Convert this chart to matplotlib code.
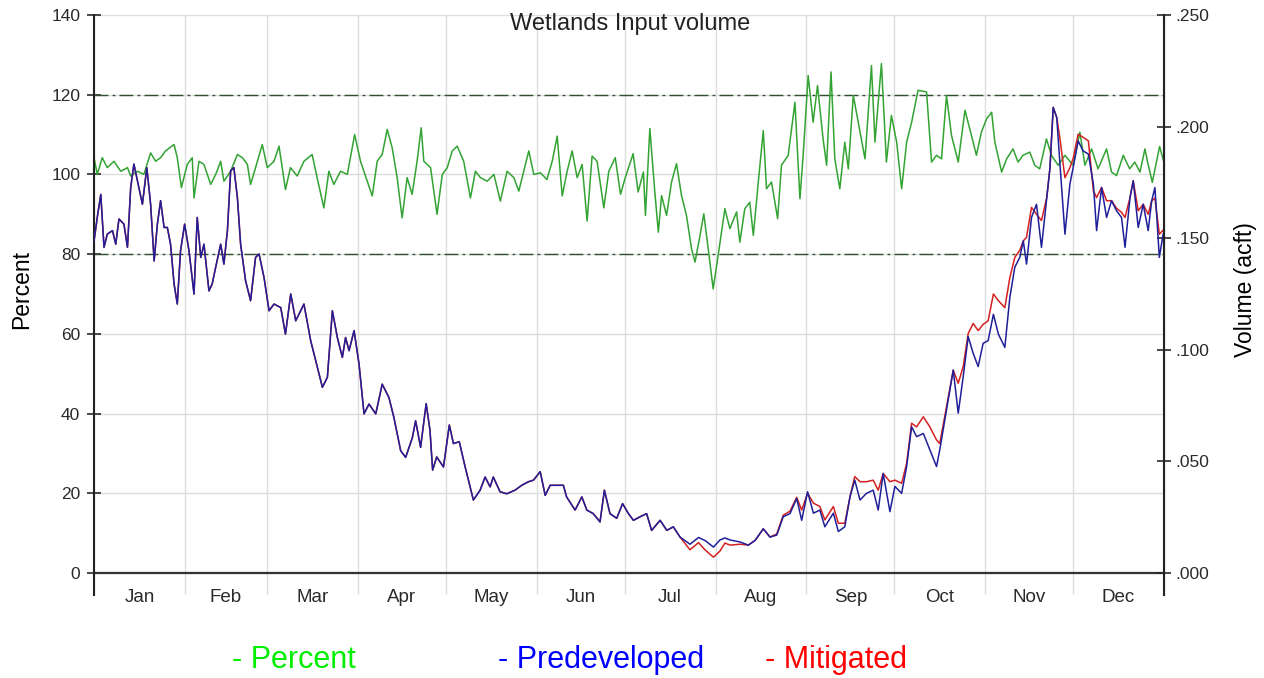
import matplotlib
matplotlib.use("Agg")
import matplotlib.pyplot as plt
import numpy as np

plt.rcParams['font.family'] = ['Liberation Sans', 'DejaVu Sans']

# month layout
month_names = ['Jan', 'Feb', 'Mar', 'Apr', 'May', 'Jun',
               'Jul', 'Aug', 'Sep', 'Oct', 'Nov', 'Dec']
month_start = [0, 31, 59, 90, 120, 151, 181, 212, 243, 273, 304, 334, 365]

# Percent (left axis), day of year
green_day = np.array([
    0, 1.1, 2.8, 4.5, 6.8, 9.1, 11.4, 12.5, 14.8, 17.0,
    19.3, 21.0, 22.7, 24.4, 27.3, 28.4, 29.8, 31.8, 33.5, 34.1,
    35.8, 37.5, 39.8, 41.5, 43.2, 44.3, 46.6, 48.9, 50.6, 52.3,
    53.4, 55.1, 57.4, 59.1, 61.4, 63.1, 65.3, 67.0, 69.3, 71.6,
    74.4, 76.1, 78.4, 80.1, 81.8, 84.1, 86.4, 88.9, 90.9, 92.6,
    94.9, 96.6, 98.3, 100.0, 101.7, 103.4, 105.1, 106.8, 108.5, 110.2,
    111.6, 112.5, 114.8, 117.0, 118.8, 120.5, 122.2, 123.9, 126.1, 128.4,
    130.1, 131.8, 134.1, 136.4, 138.6, 140.9, 143.2, 144.9, 146.6, 148.3,
    150.0, 152.3, 154.5, 156.3, 158.0, 159.7, 161.4, 163.1, 164.8, 166.5,
    168.2, 169.9, 171.6, 173.9, 175.6, 177.8, 179.6,
    181.1, 183.9, 185.6, 187.4, 188.1, 189.6, 191.3, 192.5, 193.6, 195.3,
    197.0, 198.7, 200.4, 202.1, 203.8, 205.0, 206.3, 208.0, 209.5, 211.2,
    212.9, 215.2, 216.9, 219.2, 220.3, 222.0, 223.7, 224.9, 226.6, 228.3,
    229.4, 231.1, 233.2, 234.5, 236.8, 239.1, 240.8, 241.9, 243.6, 245.3,
    246.8, 248.7, 249.9, 251.4, 252.7, 254.4, 256.1, 257.3, 259.0, 260.7,
    263.0, 265.2, 266.4, 268.6, 270.3, 272.0, 273.8, 275.5, 277.2, 278.9,
    281.1, 284.0, 285.7, 287.4, 289.1, 290.8, 292.5, 294.8, 297.1, 299.3,
    301.0, 302.7, 304.5, 306.2, 307.3, 309.6, 311.3, 313.5, 315.2, 316.9,
    319.2, 320.9, 322.6, 324.9, 326.6, 328.9, 331.2, 334.0, 336.3, 338.0,
    340.3, 342.5, 345.4, 347.1, 348.8, 351.1, 353.3, 355.0, 356.8, 358.5,
    359.4, 361.0, 363.5, 365.0])
green_pct = np.array([
    104.2, 100, 104.2, 101.7, 103.3, 100.8, 101.7, 99.6, 100.8, 100,
    105.4, 103.3, 104.2, 105.9, 107.5, 104.2, 96.7, 102.5, 104.2, 94.1,
    103.3, 102.5, 97.5, 100, 103.3, 98.3, 100.8, 105, 104.2, 102.5,
    97.5, 101.7, 107.5, 101.7, 103.3, 107.1, 96.2, 101.7, 99.6, 103.3,
    105, 99.2, 91.6, 100.8, 97.5, 100.8, 100, 110, 103.3, 99.6,
    94.6, 103.3, 105, 111.3, 106.7, 99.2, 89.1, 99.2, 95, 103.3,
    111.7, 103.3, 101.7, 90, 100, 101.7, 105.9, 107.1, 103.3, 94.1,
    100.8, 99.2, 98.3, 100, 93.3, 100.8, 99.2, 95.8, 100.8, 105.9,
    100, 100.4, 98.7, 103.3, 109.6, 94.6, 100.8, 105.9, 99.2, 102.5,
    88.3, 104.6, 103.3, 91.6, 100.8, 104.2, 95,
    98.9, 105.2, 95.6, 100.6, 89.7, 111.5, 95.6, 85.5, 94.7, 89.7,
    98.1, 102.7, 94.7, 89.7, 81.4, 78.0, 83.0, 90.1, 81.4, 71.3,
    79.7, 91.4, 86.4, 90.6, 83.0, 91.4, 93.0, 84.7, 98.1, 111.0,
    96.4, 98.1, 88.9, 102.3, 104.8, 118.1, 93.9, 104.8, 124.8, 113.1,
    122.3, 108.9, 102.3, 125.7, 103.9, 96.4, 108.1, 101.4, 119.8, 113.1,
    103.9, 127.3, 108.1, 127.8, 103.1, 114.8, 108.1, 96.4, 108.1, 113.1,
    121.1, 120.7, 103.1, 104.8, 103.9, 119.8, 109.8, 103.1, 116.1, 109.8,
    104.8, 110.6, 114.0, 115.6, 108.1, 100.6, 103.9, 106.4, 103.1, 104.8,
    105.6, 102.3, 101.4, 108.9, 104.8, 102.3, 104.8, 102.3, 110.6, 102.3,
    106.4, 101.4, 106.4, 100.6, 99.7, 104.8, 101.4, 103.1, 100.6, 106.4,
    103.1, 98, 107, 103])

# Volume (right axis, acft), shared day positions
vol_day = np.array([
    0, 1.1, 2.3, 3.4, 4.5, 6.3, 7.4, 8.5, 10.2, 11.4,
    12.5, 13.6, 15.3, 16.5, 18, 19.3, 20.5, 21.6, 22.7, 23.9,
    25, 26.1, 27.3, 28.4, 29.5, 30.9, 32.4, 34.1, 35.2, 36.4,
    37.5, 39.2, 40.3, 41.5, 43.2, 44.3, 45.5, 46.6, 47.7, 48.9,
    50, 51.7, 53.4, 55.1, 56.3, 58, 59.7, 61.4, 63.7, 65.3,
    67.1, 68.8, 71.6, 73.9, 76.2, 77.9, 79.6, 81.3, 83, 84.7,
    85.8, 87, 88.7, 90.4, 92.1, 93.8, 96.1, 98.3, 100.6, 102.3,
    104.6, 106.3, 108.6, 109.7, 111.4, 113.3, 114.6, 115.5, 116.9, 119.2,
    121.2, 122.6, 124.6, 126.6, 128.3, 129.4, 131.7, 133.4, 135.1, 136.2,
    138.5, 140.8, 143.6, 145.9, 148.2, 149.9, 152.2, 153.9, 155.6, 160.1,
    161.2, 164.1, 166.4, 168.1, 170.3, 172.6, 174.1, 176, 178.3, 180.3,
    182.3, 184, 186.3, 188.5, 190.2, 193.1, 195.4, 197.6, 199.9, 203.3,
    206.2, 208.4, 211.3, 213.5, 215.2, 217, 220.4, 223.2, 225.5, 228.3,
    230.6, 232.9, 235.1, 237.4, 239.7, 241.4, 243.4, 245.4, 247.6, 249.3,
    252.2, 253.9, 256.1, 257.9, 259.5, 261.3, 263.5, 265.8, 267.5, 269.2,
    271.5, 273.2, 275.5, 277.2, 278.9, 280.6, 282.9, 285.1, 287.4, 288.5,
    290.8, 293.1, 294.8, 296.5, 298.2, 299.9, 301.6, 303.3, 305, 306.8,
    308.5, 310.7, 312.4, 314.1, 315.8, 317, 318.1, 319.8, 321.5, 323.2,
    325, 326.1, 327.2, 328.4, 329.5, 331.2, 332.9, 334, 335.7, 337.4,
    339.2, 340.9, 342, 343.7, 345.4, 347.1, 348.8, 350.5, 351.7, 353.4,
    354.5, 356.2, 357.9, 359.6, 360.8, 361.9, 363.4, 364.7])

predeveloped = np.array([
    0.1488, 0.1593, 0.1696, 0.1459, 0.1518, 0.1534, 0.1473, 0.1586, 0.1563, 0.1459,
    0.1727, 0.1832, 0.1727, 0.1652, 0.1816, 0.1652, 0.1398, 0.1563, 0.1668, 0.1548,
    0.1548, 0.1473, 0.1295, 0.1205, 0.1443, 0.1563, 0.1443, 0.1250, 0.1593, 0.1414,
    0.1473, 0.1264, 0.1295, 0.1370, 0.1473, 0.1384, 0.1534, 0.1802, 0.1816, 0.1682,
    0.1473, 0.1309, 0.1220, 0.1414, 0.1429, 0.1323, 0.1175, 0.1205, 0.1189, 0.1070,
    0.1250, 0.1130, 0.1205, 0.1041, 0.0921, 0.0832, 0.0877, 0.1175, 0.1055, 0.0966,
    0.1055, 0.0996, 0.1086, 0.0936, 0.0713, 0.0757, 0.0713, 0.0846, 0.0786, 0.0696,
    0.0548, 0.0518, 0.0607, 0.0682, 0.0563, 0.0759, 0.0639, 0.0461, 0.0520, 0.0475,
    0.0663, 0.0580, 0.0588, 0.0475, 0.0386, 0.0327, 0.0371, 0.0430, 0.0386, 0.0430,
    0.0364, 0.0355, 0.0371, 0.0393, 0.0409, 0.0416, 0.0454, 0.0348, 0.0393, 0.0393,
    0.0341, 0.0282, 0.0341, 0.0282, 0.0266, 0.0229, 0.0371, 0.0266, 0.0245, 0.0311,
    0.0266, 0.0236, 0.0252, 0.0266, 0.0191, 0.0236, 0.0191, 0.0207, 0.0161, 0.0129,
    0.0159, 0.0146, 0.0116, 0.0148, 0.0157, 0.0148, 0.0139, 0.0125, 0.0146, 0.0198,
    0.0161, 0.0170, 0.0252, 0.0266, 0.0334, 0.0236, 0.0364, 0.0268, 0.0282, 0.0207,
    0.0268, 0.0186, 0.0207, 0.0343, 0.0416, 0.0327, 0.0357, 0.0371, 0.0282, 0.0446,
    0.0275, 0.0388, 0.0357, 0.0477, 0.0655, 0.0611, 0.0625, 0.0552, 0.0477, 0.0552,
    0.0730, 0.0909, 0.0716, 0.0880, 0.1059, 0.0984, 0.0925, 0.1029, 0.1041, 0.1159,
    0.1070, 0.1011, 0.1234, 0.1370, 0.1414, 0.1488, 0.1384, 0.1593, 0.1652, 0.1459,
    0.1682, 0.1816, 0.2086, 0.2041, 0.1832, 0.1518, 0.1743, 0.1816, 0.1936, 0.1891,
    0.1877, 0.1743, 0.1534, 0.1727, 0.1593, 0.1668, 0.1623, 0.1593, 0.1459, 0.1682,
    0.1757, 0.1548, 0.1652, 0.1534, 0.1668, 0.1727, 0.1414, 0.1518])

mitigated = np.array([
    0.1488, 0.1593, 0.1696, 0.1459, 0.1518, 0.1534, 0.1473, 0.1586, 0.1563, 0.1459,
    0.1727, 0.1832, 0.1727, 0.1652, 0.1816, 0.1652, 0.1398, 0.1563, 0.1668, 0.1548,
    0.1548, 0.1473, 0.1295, 0.1205, 0.1443, 0.1563, 0.1443, 0.1250, 0.1593, 0.1414,
    0.1473, 0.1264, 0.1295, 0.1370, 0.1473, 0.1384, 0.1534, 0.1802, 0.1816, 0.1682,
    0.1473, 0.1309, 0.1220, 0.1414, 0.1429, 0.1323, 0.1175, 0.1205, 0.1189, 0.1070,
    0.1250, 0.1130, 0.1205, 0.1041, 0.0921, 0.0832, 0.0877, 0.1175, 0.1055, 0.0966,
    0.1055, 0.0996, 0.1086, 0.0936, 0.0713, 0.0757, 0.0713, 0.0846, 0.0786, 0.0696,
    0.0548, 0.0518, 0.0607, 0.0682, 0.0563, 0.0759, 0.0639, 0.0461, 0.0520, 0.0475,
    0.0663, 0.0580, 0.0588, 0.0475, 0.0386, 0.0327, 0.0371, 0.0430, 0.0386, 0.0430,
    0.0364, 0.0355, 0.0371, 0.0393, 0.0409, 0.0416, 0.0454, 0.0348, 0.0393, 0.0393,
    0.0341, 0.0282, 0.0341, 0.0282, 0.0266, 0.0229, 0.0371, 0.0266, 0.0245, 0.0311,
    0.0266, 0.0236, 0.0252, 0.0266, 0.0191, 0.0236, 0.0191, 0.0207, 0.0161, 0.0104,
    0.0136, 0.0104, 0.0071, 0.0098, 0.0134, 0.0125, 0.0129, 0.0125, 0.0146, 0.0198,
    0.0161, 0.0175, 0.0259, 0.0277, 0.0339, 0.0282, 0.0357, 0.0313, 0.0298, 0.0238,
    0.0298, 0.0223, 0.0223, 0.0343, 0.0432, 0.0409, 0.0409, 0.0416, 0.0371, 0.0446,
    0.0409, 0.0416, 0.0402, 0.0491, 0.0671, 0.0655, 0.0700, 0.0655, 0.0596, 0.0580,
    0.0745, 0.0909, 0.0850, 0.0925, 0.1073, 0.1118, 0.1086, 0.1114, 0.1130, 0.1250,
    0.1220, 0.1189, 0.1323, 0.1414, 0.1446, 0.1488, 0.1504, 0.1638, 0.1607, 0.1579,
    0.1682, 0.1816, 0.2086, 0.2041, 0.1946, 0.1771, 0.1816, 0.1857, 0.1966, 0.1952,
    0.1936, 0.1713, 0.1682, 0.1727, 0.1668, 0.1668, 0.1634, 0.1616, 0.1593, 0.1682,
    0.1757, 0.1623, 0.1652, 0.1607, 0.1668, 0.1679, 0.1518, 0.1536])

pct_ticks = [0, 20, 40, 60, 80, 100, 120, 140]
vol_ticks = [0, 0.05, 0.10, 0.15, 0.20, 0.25]
vol_labels = ['.000', '.050', '.100', '.150', '.200', '.250']
limit_lines = [80, 120]

fig = plt.figure(figsize=(12.64, 6.78), dpi=100)
ax = fig.add_axes([0.0744, 0.1224, 0.8465, 0.8555])

ybot = -5.52
ax.set_xlim(0, 365)
ax.set_ylim(ybot, 140)

# grid and frame
ax.set_xticks(month_start)
ax.set_xticklabels([])
ax.set_xticks([(month_start[i] + month_start[i + 1]) / 2 for i in range(12)], minor=True)
ax.set_xticklabels(month_names, minor=True)
ax.tick_params(axis='x', which='both', length=0)
ax.tick_params(axis='x', which='minor', labelsize=13.5, pad=-4, colors='#2a2a2a')
ax.set_yticks(pct_ticks)
ax.tick_params(axis='y', direction='inout', length=10, width=1.2,
               labelsize=12.5, pad=5, colors='#2a2a2a')
ax.grid(True, which='major', color='#dddddd', linewidth=1)
ax.set_axisbelow(True)
for s in ['top', 'bottom']:
    ax.spines[s].set_visible(False)
ax.spines['left'].set_linewidth(1.5)
ax.spines['left'].set_color('#222222')
ax.axhline(0, color='#333333', linewidth=1.6, zorder=1.5)

for v in limit_lines:
    ax.axhline(v, color='#2f4f2f', linewidth=1,
               linestyle=(0, (10, 3, 2, 3)), zorder=1.6)

ax.plot(green_day, green_pct, color='#33a333', linewidth=1.1, zorder=2)

ax.set_ylabel('Percent', fontsize=16.5)
ax.yaxis.set_label_coords(-0.057, 0.526)
ax.text(0.501, 1.004, 'Wetlands Input volume', transform=ax.transAxes,
        ha='center', va='top', fontsize=17, color='#222222')

ax2 = ax.twinx()
ax2.set_ylim(ybot * 0.25 / 140, 0.25)
ax2.set_yticks(vol_ticks)
ax2.set_yticklabels(vol_labels)
ax2.tick_params(axis='y', direction='inout', length=10, width=1.2,
                labelsize=12.5, pad=3, colors='#2a2a2a')
for s in ['top', 'bottom', 'left']:
    ax2.spines[s].set_visible(False)
ax2.spines['right'].set_linewidth(1.5)
ax2.spines['right'].set_color('#222222')
ax2.plot(vol_day, mitigated, color='#d42020', linewidth=1.1)
ax2.plot(vol_day, predeveloped, color='#1f1f9a', linewidth=1.1)
ax2.set_ylabel('Volume (acft)', fontsize=16.5)
ax2.yaxis.set_label_coords(1.0654, 0.526)

fig.text(0.1835, 0.0265, '- Percent', color='#00ee00', fontsize=22, va='center')
fig.text(0.394, 0.0265, '- Predeveloped', color='#0000ff', fontsize=22, va='center')
fig.text(0.605, 0.0265, '- Mitigated', color='#ff0000', fontsize=22, va='center')

fig.savefig('out.png', dpi=100)
